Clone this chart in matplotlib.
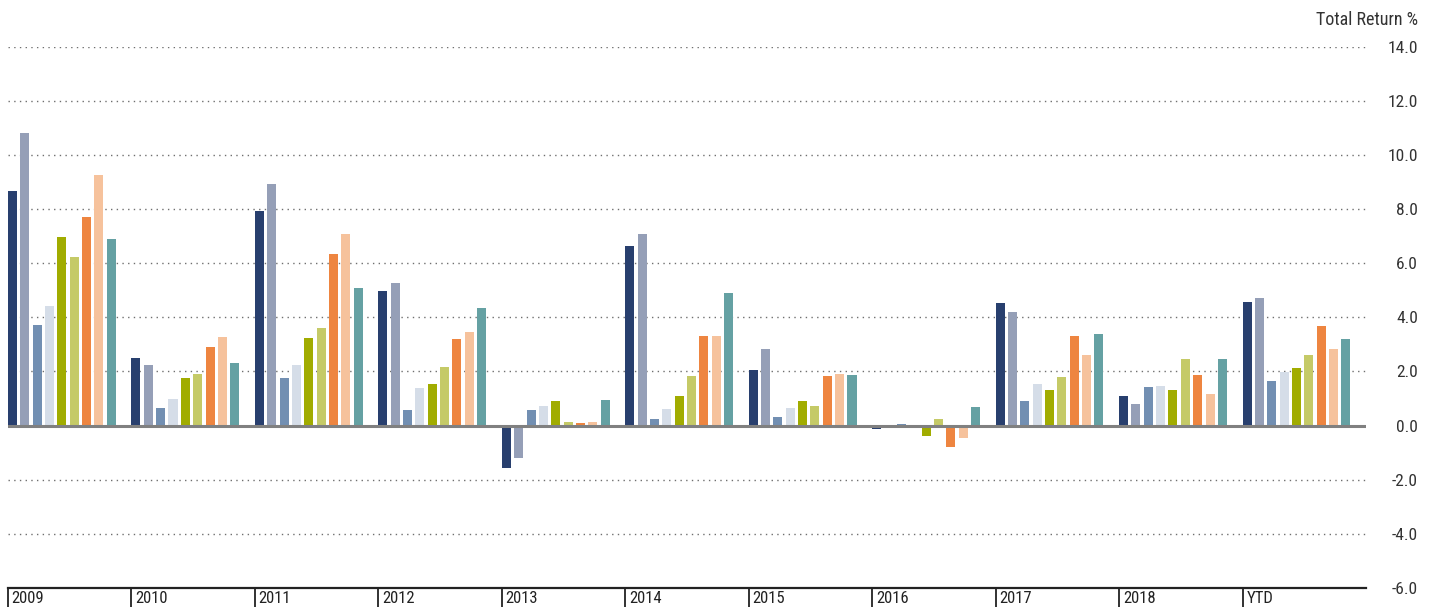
import matplotlib

matplotlib.use("Agg")
import matplotlib.pyplot as plt
import matplotlib.transforms as mtransforms
from matplotlib import font_manager
import numpy as np

# 年份分组
years = ["2009", "2010", "2011", "2012", "2013", "2014", "2015", "2016", "2017", "2018", "YTD"]

# 每组 9 个系列（按图中颜色顺序）
s1 = [8.68, 2.51, 7.91, 4.99, -1.55, 6.65, 2.07, -0.13, 4.51, 1.11, 4.58]
s2 = [10.79, 2.22, 8.94, 5.28, -1.18, 7.06, 2.84, -0.09, 4.21, 0.81, 4.73]
s3 = [3.73, 0.66, 1.77, 0.59, 0.59, 0.26, 0.33, 0.07, 0.89, 1.44, 1.63]
s4 = [4.40, 1.00, 2.22, 1.37, 0.74, 0.63, 0.66, -0.02, 1.55, 1.48, 1.99]
s5 = [6.95, 1.74, 3.25, 1.55, 0.89, 1.11, 0.89, -0.40, 1.33, 1.33, 2.11]
s6 = [6.21, 1.92, 3.62, 2.18, 0.15, 1.85, 0.74, 0.26, 1.81, 2.47, 2.59]
s7 = [7.72, 2.92, 6.35, 3.18, 0.11, 3.32, 1.85, -0.80, 3.32, 1.88, 3.69]
s8 = [9.24, 3.29, 7.06, 3.44, 0.15, 3.32, 1.92, -0.47, 2.62, 1.15, 2.84]
s9 = [6.91, 2.33, 5.10, 4.36, 0.96, 4.91, 1.88, 0.70, 3.40, 2.47, 3.21]

series = [s1, s2, s3, s4, s5, s6, s7, s8, s9]
colors = ["#283F6E", "#959FB7", "#728FB2", "#D5DDE8", "#A1AC00",
          "#C5CA67", "#EE8540", "#F6C29C", "#65A1A3"]

yticks = [14, 12, 10, 8, 6, 4, 2, 0, -2, -4, -6]


def pick_font():
    for name in ["Roboto Condensed", "Liberation Sans Narrow", "Open Sans Condensed"]:
        try:
            font_manager.findfont(name, fallback_to_default=False)
            return [name, "DejaVu Sans"]
        except Exception:
            continue
    return ["Liberation Sans", "DejaVu Sans"]


plt.rcParams["font.family"] = pick_font()

W, H = 1434, 612
fig = plt.figure(figsize=(W / 100, H / 100), dpi=100)
ax = fig.add_axes([8 / W, 1 - 588 / H, (1366 - 8) / W, (588 - 46.6) / H])

pitch = 0.1
width = 0.073
x0 = np.arange(len(years))
for j, (vals, c) in enumerate(zip(series, colors)):
    ax.bar(x0 + j * pitch, vals, width=width, align="edge", color=c, zorder=2)

ax.set_xlim(0, len(years))
ax.set_ylim(-6, 14)

# 点状网格
for v in yticks:
    if v in (0, -6):
        continue
    ax.axhline(v, color="#6f6f6f", linestyle=(0, (1, 3.1)), linewidth=1.0, zorder=1)
ax.axhline(0, color="#808080", linewidth=2.2, zorder=3)

for s in ax.spines.values():
    s.set_visible(False)
ax.spines["bottom"].set_visible(True)
ax.spines["bottom"].set_color("#222222")
ax.spines["bottom"].set_linewidth(1.6)

ax.set_xticks(x0)
ax.set_xticklabels([])
ax.tick_params(axis="x", direction="out", length=13.7, width=1.3, color="#222222")

trans = mtransforms.blended_transform_factory(ax.transData, ax.transAxes)
for i, lab in enumerate(years):
    ax.text(i + 0.03, -0.006, lab, transform=trans, ha="left", va="top",
            fontsize=12, color="#222222")

ax.yaxis.tick_right()
ax.set_yticks(yticks)
ax.set_yticklabels([f"{v:.1f}" for v in yticks])
ax.tick_params(axis="y", length=0, pad=37.4, labelsize=12.5, labelcolor="#333333")
for lab in ax.get_yticklabels():
    lab.set_horizontalalignment("right")

fig.text(1418 / W, 1 - 20 / H, "Total Return %", ha="right", va="center",
         fontsize=13, color="#333333")

fig.savefig("out.png", dpi=100)
plt.close(fig)
